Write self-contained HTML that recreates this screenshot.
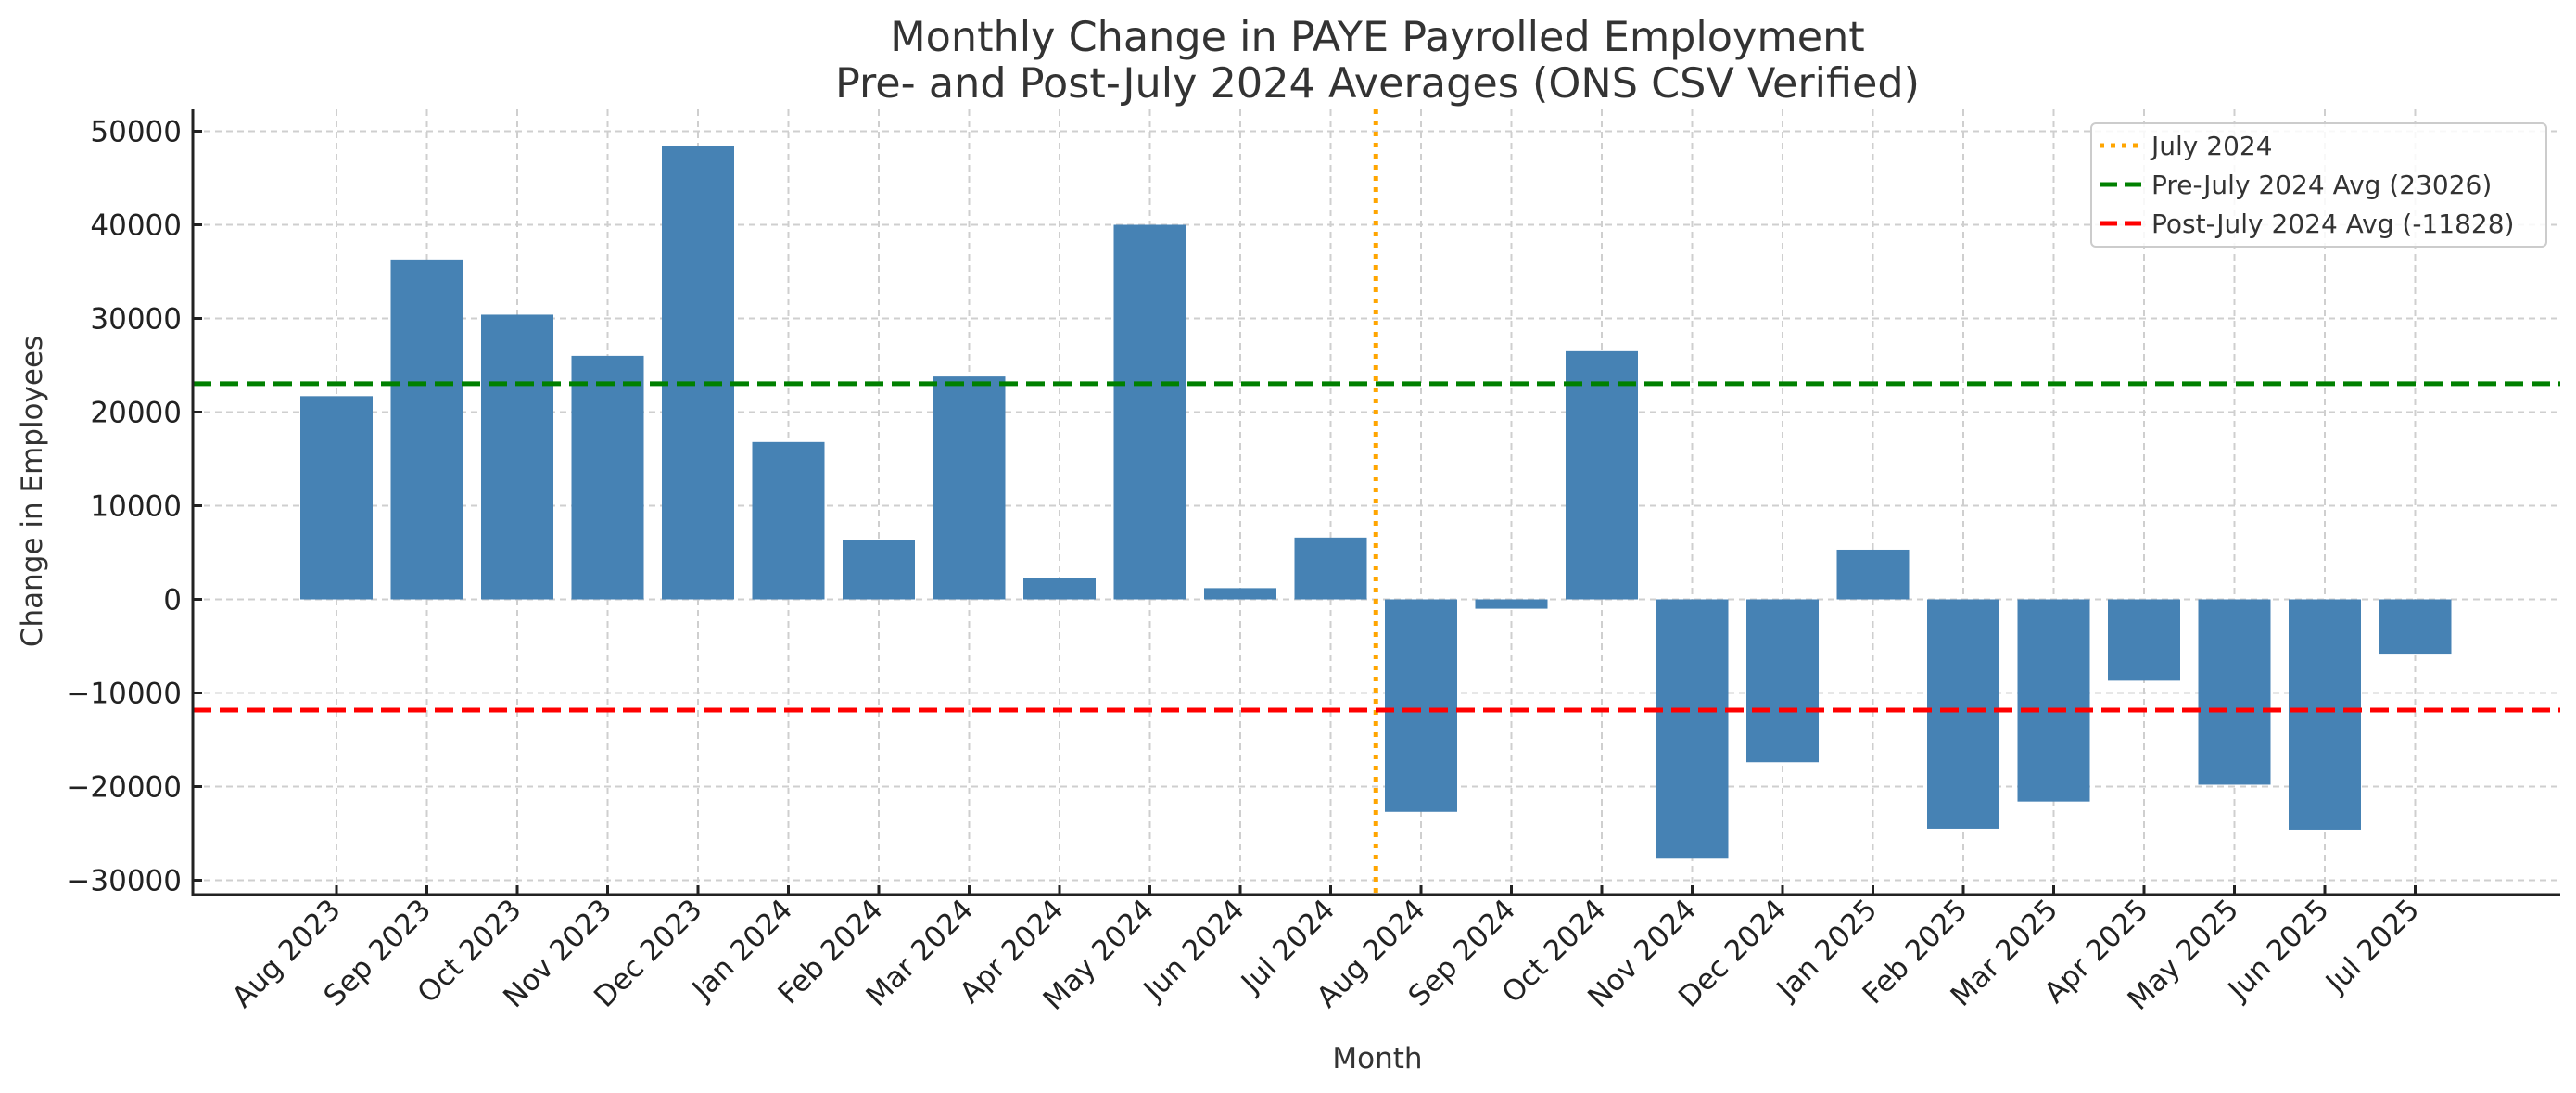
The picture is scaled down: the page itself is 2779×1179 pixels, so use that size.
<!DOCTYPE html>
<html><head><meta charset="utf-8"><style>
body{margin:0;background:#fff}
svg{display:block;font-family:"DejaVu Sans","Liberation Sans",sans-serif}
</style></head><body>
<svg id="chart" width="2779" height="1179" viewBox="0 0 2779 1179">
<g id="grid"></g>
<g id="bars"></g>
<g id="refs"></g>
<g id="axes"></g>
<text x="1486" y="55" font-size="44.5" text-anchor="middle" fill="#333">Monthly Change in PAYE Payrolled Employment</text>
<text x="1486" y="105" font-size="44.5" text-anchor="middle" fill="#333">Pre- and Post-July 2024 Averages (ONS CSV Verified)</text>
<text x="1486" y="1152" font-size="31" text-anchor="middle" fill="#333">Month</text>
<text transform="translate(45,530) rotate(-90)" font-size="31" text-anchor="middle" fill="#333">Change in Employees</text>
<g>
<rect x="2256" y="133" width="491" height="133" rx="5" fill="#fff" fill-opacity="0.85" stroke="#ccc" stroke-width="2"/>
<line x1="2265" y1="157" x2="2310" y2="157" stroke="orange" stroke-width="5" stroke-dasharray="5 7"/>
<text x="2321" y="167" font-size="28" fill="#333">July 2024</text>
<line x1="2265" y1="199" x2="2310" y2="199" stroke="green" stroke-width="5" stroke-dasharray="19 8"/>
<text x="2321" y="209" font-size="28" fill="#333">Pre-July 2024 Avg (23026)</text>
<line x1="2265" y1="241" x2="2310" y2="241" stroke="red" stroke-width="5" stroke-dasharray="19 8"/>
<text x="2321" y="251" font-size="28" fill="#333">Post-July 2024 Avg (-11828)</text>
</g>
</svg>
<script>
const months = ["Aug 2023","Sep 2023","Oct 2023","Nov 2023","Dec 2023","Jan 2024","Feb 2024","Mar 2024","Apr 2024","May 2024","Jun 2024","Jul 2024","Aug 2024","Sep 2024","Oct 2024","Nov 2024","Dec 2024","Jan 2025","Feb 2025","Mar 2025","Apr 2025","May 2025","Jun 2025","Jul 2025"];
const changes = [21700,36300,30400,26000,48400,16800,6300,23800,2300,40000,1200,6600,-22700,-1000,26500,-27700,-17400,5300,-24500,-21600,-8700,-19800,-24600,-5800];
const yTicks = [-30000,-20000,-10000,0,10000,20000,30000,40000,50000];
const preAvg = 23026;
const postAvg = -11828;
const julyIndex = 11.5;

const NS="http://www.w3.org/2000/svg";
const L=208,R=2762,T=118,B=965;
const x0=363,step=97.5;
function X(i){return x0+i*step;}
function Y(v){return 646.5-v*0.0101;}
function mk(tag,attrs,parent){const e=document.createElementNS(NS,tag);for(const k in attrs)e.setAttribute(k,attrs[k]);parent.appendChild(e);return e;}
const grid=document.getElementById('grid'),bars=document.getElementById('bars'),refs=document.getElementById('refs'),axes=document.getElementById('axes');

yTicks.forEach(v=>{
  const g=mk('line',{x1:L,x2:R,y1:Y(v),y2:Y(v),stroke:'#cfcfcf','stroke-width':2,'stroke-dasharray':'7 5'},grid);
  
  
  const t=mk('line',{x1:L,x2:L+10,y1:Y(v),y2:Y(v),stroke:'#222','stroke-width':3},axes);
  
  
  const lb=mk('text',{x:L-12,y:Y(v)+11,'font-size':31,'text-anchor':'end',fill:'#222'},axes);
  lb.textContent=(v<0?'\u2212'+Math.abs(v):String(v));
  
  
});
months.forEach((m,i)=>{
  const g=mk('line',{x1:X(i),x2:X(i),y1:T,y2:B,stroke:'#cfcfcf','stroke-width':2,'stroke-dasharray':'7 5'},grid);
  
  
  const v=changes[i];
  const r=mk('rect',{x:X(i)-39,width:78,y:Math.min(Y(v),Y(0)),height:Math.abs(Y(v)-Y(0)),fill:'#4682b4'},bars);
  
  
  const t=mk('line',{x1:X(i),x2:X(i),y1:B-10,y2:B,stroke:'#222','stroke-width':3},axes);
  
  
  const lb=mk('text',{transform:`translate(${X(i)+6},${B+18}) rotate(-45)`,'font-size':31,'text-anchor':'end',fill:'#222'},axes);
  lb.textContent=m;
  
  
});
const vl=mk('line',{x1:X(julyIndex),x2:X(julyIndex),y1:T,y2:B,stroke:'orange','stroke-width':5,'stroke-dasharray':'5 7'},refs);


const gl=mk('line',{x1:L,x2:R,y1:Y(preAvg),y2:Y(preAvg),stroke:'green','stroke-width':5,'stroke-dasharray':'20 9'},refs);


const rl=mk('line',{x1:L,x2:R,y1:Y(postAvg),y2:Y(postAvg),stroke:'red','stroke-width':5,'stroke-dasharray':'20 9'},refs);


const ax=mk('path',{d:`M${L},${T} L${L},${B} L${R},${B}`,fill:'none',stroke:'#222','stroke-width':3},axes);


</script>
</body></html>
